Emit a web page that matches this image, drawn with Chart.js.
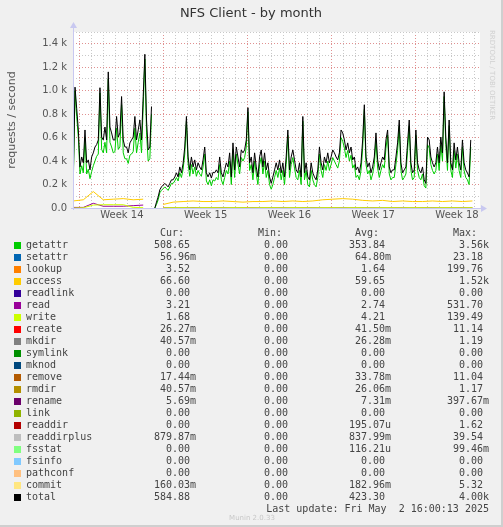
<!DOCTYPE html>
<html>
<head>
<meta charset="utf-8">
<script src="https://cdn.jsdelivr.net/npm/chart.js@4"></script>
<style>
  body { margin: 0; background: #f0f0f0; }
  #wrap { position: relative; width: 501px; height: 525px; background: #f0f0f0;
          border-right: 2px solid #cfcfcf; border-bottom: 2px solid #cfcfcf; overflow: hidden; }
  #chart { position: absolute; left: 0; top: 0; }
  .t { position: absolute; font-family: "DejaVu Sans Mono", monospace; font-size: 10px;
       line-height: 12px; color: #444; white-space: pre; }
  .sw { position: absolute; width: 7px; height: 7px; }
</style>
</head>
<body>
<div id="wrap">
  <canvas id="chart" width="503" height="228"></canvas>
  <div id="legend"></div>
</div>
<script>
// time axis: days since start of the month view, one sample every ~0.139 day
var T0 = 0.03;
var STEP = 0.1389;
var weekLabels = ['Week 14', 'Week 15', 'Week 16', 'Week 17', 'Week 18'];

var total = [280,1030,850,665,350,435,385,665,385,410,325,435,470,520,540,580,1025,605,580,690,580,1160,690,640,580,580,780,605,640,950,580,520,520,470,555,580,605,780,580,665,750,580,950,1310,750,495,520,865,null,0,50,95,155,180,195,210,195,180,210,240,240,265,300,265,350,300,380,520,780,435,325,435,350,410,325,385,350,325,410,
  520,300,265,300,255,305,300,325,300,435,300,265,325,385,350,470,265,555,325,520,435,350,495,470,495,580,855,385,435,300,470,350,265,435,495,350,470,325,385,265,210,265,325,385,325,410,300,385,265,435,665,325,435,495,410,325,300,385,265,780,300,385,265,240,385,300,265,240,325,520,385,325,435,385,470,385,435,495,470,435,410,470,
  665,640,580,495,555,470,520,410,435,325,350,300,385,580,880,435,350,385,300,350,435,640,410,325,385,435,410,580,665,350,300,325,325,435,555,750,385,300,325,350,555,750,385,300,325,665,385,325,300,350,240,210,605,580,435,385,350,385,520,385,605,470,990,605,385,750,385,325,555,410,520,385,325,580,385,325,300,265,580];

var getattr = [230,1000,780,600,290,360,300,600,290,330,250,310,360,400,440,460,980,500,470,560,470,1100,560,520,470,480,680,500,520,880,470,420,420,380,450,460,480,680,470,560,640,470,860,1270,640,400,420,800,null,0,30,70,130,150,165,180,165,150,180,210,210,230,260,230,300,260,330,460,740,380,270,370,290,350,270,320,290,270,350,
  460,230,200,240,190,240,230,260,240,370,240,200,260,320,290,400,200,500,260,460,370,290,430,400,430,520,820,320,370,240,400,290,200,370,430,290,400,260,320,200,160,200,260,320,260,340,240,320,200,370,620,260,370,430,340,260,240,320,200,740,240,320,200,180,320,240,200,180,260,460,320,260,370,320,400,320,370,430,400,370,340,400,
  600,570,510,430,490,400,450,340,370,260,280,240,320,510,840,370,290,320,240,290,370,580,340,260,320,370,340,510,620,290,240,260,260,370,490,700,320,240,260,290,490,700,320,240,260,620,320,260,240,290,190,170,540,510,370,320,290,320,460,320,540,400,950,540,320,700,320,260,490,340,460,320,260,520,320,260,240,200,520];

// coarser series, one sample every 6 steps
var access = [60,70,140,70,75,80,70,75,null,30,50,55,60,55,55,60,55,50,55,55,60,55,60,55,60,70,75,80,75,65,60,65,55,60,55,55,60,55,60,55,60];
var read = [5,5,40,15,15,15,20,25,null,2,3,2,3,2,3,2,2,3,2,2,3,2,2,3,2,2,3,2,2,3,2,2,3,2,2,3,2,2,3,2,2];
var write = [0,2,25,28,28,28,5,3,null,2,3,3,2,3,3,2,3,3,2,3,3,2,3,3,2,3,3,2,3,3,2,3,3,2,3,3,2,3,3,2,3];

// legend table
var names = ['getattr','setattr','lookup','access','readlink','read','write','create','mkdir','symlink','mknod','remove','rmdir','rename','link','readdir','readdirplus','fsstat','fsinfo','pathconf','commit','total'];
var colors = ['#00cc00','#0066b3','#ff8000','#ffcc00','#330099','#990099','#ccff00','#ff0000','#808080','#008f00','#00487d','#b35a00','#b38f00','#6b006b','#8fb300','#b30000','#bebebe','#80ff80','#80c9ff','#ffc080','#ffe680','#000000'];
var cur = ['508.65','56.96m','3.52','66.60','0.00','3.21','1.68','26.27m','40.57m','0.00','0.00','17.44m','40.57m','5.69m','0.00','0.00','879.87m','0.00','0.00','0.00','160.03m','584.88'];
var mins = ['0.00','0.00','0.00','0.00','0.00','0.00','0.00','0.00','0.00','0.00','0.00','0.00','0.00','0.00','0.00','0.00','0.00','0.00','0.00','0.00','0.00','0.00'];
var avg = ['353.84','64.80m','1.64','59.65','0.00','2.74','4.21','41.50m','26.28m','0.00','0.00','33.78m','26.06m','7.31m','0.00','195.07u','837.99m','116.21u','0.00','0.00','182.96m','423.30'];
var max = ['3.56k','23.18','199.76','1.52k','0.00','531.70','139.49','11.14','1.19','0.00','0.00','11.04','1.17','397.67m','0.00','1.62','39.54','99.46m','0.00','0.00','5.32','4.00k'];

function pts(arr, step) {
  return arr.map(function(v, i) { return { x: T0 + i * step, y: v }; });
}

var legend = document.getElementById('legend');
function addText(txt, left, top, extra) {
  var d = document.createElement('div');
  d.className = 't';
  d.textContent = txt;
  d.style.left = left + 'px';
  d.style.top = top + 'px';
  if (extra) Object.assign(d.style, extra);
  legend.appendChild(d);
  return d;
}
// numbers: digits end at the column edge, unit suffix hangs after it
function addNum(val, end, top) {
  var suf = /[kmu]$/.test(val) ? val.slice(-1) : '';
  var num = suf ? val.slice(0, -1) : val;
  addText(num, end - 100, top, { width: '100px', textAlign: 'right' });
  if (suf) addText(suf, end, top);
}
var colEnds = [190, 288, 385, 483];
addText('Cur:', 160, 227);
addText('Min:', 258, 227);
addText('Avg:', 355, 227);
addText('Max:', 453, 227);
names.forEach(function(n, i) {
  var top = 239 + i * 12;
  var sw = document.createElement('div');
  sw.className = 'sw';
  sw.style.left = '14px';
  sw.style.top = (top + 3) + 'px';
  sw.style.background = colors[i];
  legend.appendChild(sw);
  addText(n, 26, top);
  addNum(cur[i], colEnds[0], top);
  addNum(mins[i], colEnds[1], top);
  addNum(avg[i], colEnds[2], top);
  addNum(max[i], colEnds[3], top);
});
addText('Last update: Fri May  2 16:00:13 2025', 189, 503, { width: '300px', textAlign: 'right' });
addText('Munin 2.0.33', 200, 512, { width: '104px', textAlign: 'center', fontFamily: 'DejaVu Sans', fontSize: '7px', color: '#c8c8c8' });

// title, axis arrows and the rrdtool credit
var decor = {
  id: 'decor',
  beforeDraw: function(chart) {
    var a = chart.chartArea, c = chart.ctx;
    c.save();
    c.fillStyle = '#ffffff';
    c.fillRect(a.left, a.top, a.right - a.left, a.bottom - a.top);
    c.restore();
  },
  afterDraw: function(chart) {
    var a = chart.chartArea, c = chart.ctx;
    c.save();
    c.fillStyle = '#333';
    c.font = '13px "DejaVu Sans"';
    c.textAlign = 'center';
    c.textBaseline = 'middle';
    c.fillText('NFS Client - by month', 251, 14);
    c.strokeStyle = '#c8c8f0';
    c.fillStyle = '#c8c8f0';
    c.lineWidth = 1;
    c.beginPath();
    c.moveTo(a.left - 2, a.bottom + 0.5); c.lineTo(a.right + 2, a.bottom + 0.5);
    c.moveTo(a.left + 0.5, a.bottom + 2); c.lineTo(a.left + 0.5, a.top - 5);
    c.stroke();
    c.beginPath();
    c.moveTo(a.right + 7, a.bottom + 0.5); c.lineTo(a.right + 1, a.bottom - 3); c.lineTo(a.right + 1, a.bottom + 4); c.fill();
    c.beginPath();
    c.moveTo(a.left + 0.5, a.top - 10); c.lineTo(a.left - 3, a.top - 4); c.lineTo(a.left + 4, a.top - 4); c.fill();
    c.translate(492, 30);
    c.rotate(Math.PI / 2);
    c.fillStyle = '#d0d0d0';
    c.font = '7px "DejaVu Sans"';
    c.textAlign = 'left';
    c.fillText('RRDTOOL / TOBI OETIKER', 0, 0);
    c.restore();
  }
};

function line(label, arr, step, color, order) {
  return { label: label, data: pts(arr, step), borderColor: color, borderWidth: 1,
           pointRadius: 0, tension: 0, spanGaps: false, order: order, xAxisID: 'x', yAxisID: 'y' };
}

new Chart(document.getElementById('chart'), {
  type: 'line',
  data: {
    datasets: [
      line('total', total, STEP, '#000000', 0),
      line('getattr', getattr, STEP, '#00cc00', 1),
      line('access', access, STEP * 6, '#ffcc00', 2),
      line('write', write, STEP * 6, '#ccff00', 3),
      line('read', read, STEP * 6, '#990099', 4)
    ]
  },
  plugins: [decor],
  options: {
    responsive: false,
    animation: false,
    layout: { padding: { top: 32, right: 23, left: 6, bottom: 0 } },
    plugins: { legend: { display: false }, tooltip: { enabled: false } },
    scales: {
      x: {
        type: 'linear', min: 0, max: 34, position: 'bottom',
        afterBuildTicks: function(s) {
          var t = [];
          for (var k = 0; k < 34; k++) t.push({ value: 0.58 + k });
          s.ticks = t;
        },
        afterFit: function(s) { s.height = 0; },
        ticks: { display: false },
        border: { display: false, dash: [1, 2] },
        grid: {
          drawTicks: false,
          color: function(ctx) { return ctx.index % 7 === 0 ? '#e09090' : '#c8c8c8'; }
        }
      },
      x2: {
        type: 'linear', min: 0, max: 34, position: 'bottom',
        afterBuildTicks: function(s) {
          s.ticks = weekLabels.map(function(w, k) { return { value: 4.08 + 7 * k }; });
        },
        afterFit: function(s) { s.height = 20; },
        grid: { display: false, drawTicks: false },
        border: { display: false },
        ticks: {
          autoSkip: false, maxRotation: 0, padding: 1,
          color: '#555', font: { family: 'DejaVu Sans', size: 10 },
          callback: function(v, i) { return weekLabels[i]; }
        }
      },
      y: {
        min: 0, max: 1500,
        afterBuildTicks: function(s) {
          var t = [];
          for (var v = 0; v <= 1500; v += 100) t.push({ value: v });
          s.ticks = t;
        },
        afterFit: function(s) { s.width = 67; },
        border: { display: false, dash: [1, 2] },
        grid: {
          drawTicks: false,
          color: function(ctx) {
            if (ctx.tick.value === 0) return 'rgba(0,0,0,0)';
            return ctx.tick.value % 200 === 0 ? '#e09090' : '#c8c8c8';
          }
        },
        ticks: {
          autoSkip: false, padding: 6,
          color: '#555', font: { family: 'DejaVu Sans', size: 10 },
          callback: function(v) {
            if (v % 200 !== 0) return '';
            return v === 0 ? '0.0' : (v / 1000).toFixed(1) + ' k';
          }
        },
        title: { display: true, text: 'requests / second', color: '#555',
                 font: { family: 'DejaVu Sans', size: 11 }, padding: 0 }
      }
    }
  }
});
</script>
</body>
</html>
